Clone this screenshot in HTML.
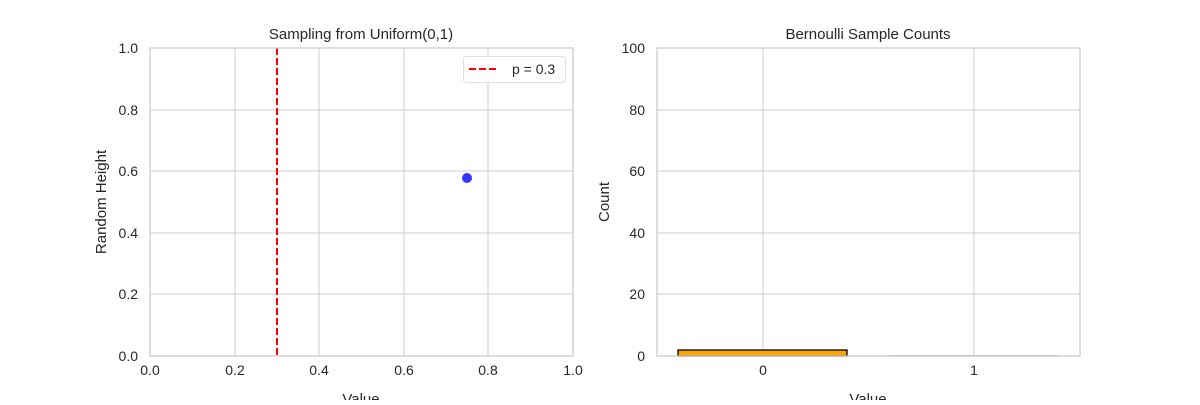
<!DOCTYPE html>
<html><head><style>body{margin:0;background:#fff}svg text{font-family:"Liberation Sans",sans-serif;fill:#262626}</style></head><body>
<svg width="1200" height="400" xmlns="http://www.w3.org/2000/svg">
<rect width="1200" height="400" fill="#fff"/>
<g stroke="#cccccc" stroke-width="1">
<line x1="235" y1="48" x2="235" y2="356"/><line x1="319" y1="48" x2="319" y2="356"/><line x1="404" y1="48" x2="404" y2="356"/><line x1="488" y1="48" x2="488" y2="356"/>
<line x1="150" y1="110" x2="573" y2="110"/><line x1="150" y1="171" x2="573" y2="171"/><line x1="150" y1="233" x2="573" y2="233"/><line x1="150" y1="294" x2="573" y2="294"/>
</g>
<line x1="277" y1="48" x2="277" y2="356" stroke="#ff0000" stroke-width="2" stroke-dasharray="7,3"/>
<circle cx="467" cy="178" r="5" fill="#1f1fff" opacity="0.9"/>
<rect x="150" y="48" width="423" height="308" fill="none" stroke="#cccccc" stroke-width="1.3"/>
<rect x="463.5" y="56.5" width="102" height="26" rx="3" fill="#fff" fill-opacity="0.8" stroke="#dddddd"/>
<line x1="469" y1="69" x2="499" y2="69" stroke="#ff0000" stroke-width="2" stroke-dasharray="7,3"/>
<text x="512" y="74" font-size="14">p = 0.3</text>
<g font-size="14" text-anchor="middle">
<text x="150" y="375">0.0</text><text x="235" y="375">0.2</text><text x="319" y="375">0.4</text><text x="404" y="375">0.6</text><text x="488" y="375">0.8</text><text x="573" y="375">1.0</text>
<text x="361" y="404" font-size="15">Value</text>
<text x="361" y="39" font-size="15">Sampling from Uniform(0,1)</text>
</g>
<g font-size="14" text-anchor="end">
<text x="138" y="361">0.0</text><text x="138" y="299">0.2</text><text x="138" y="238">0.4</text><text x="138" y="176">0.6</text><text x="138" y="115">0.8</text><text x="138" y="53">1.0</text>
</g>
<text transform="translate(106,202) rotate(-90)" font-size="15" text-anchor="middle">Random Height</text>
<g stroke="#cccccc" stroke-width="1">
<line x1="763" y1="48" x2="763" y2="356"/><line x1="974" y1="48" x2="974" y2="356"/>
<line x1="657" y1="110" x2="1080" y2="110"/><line x1="657" y1="171" x2="1080" y2="171"/><line x1="657" y1="233" x2="1080" y2="233"/><line x1="657" y1="294" x2="1080" y2="294"/>
</g>
<rect x="678" y="350" width="169" height="6" fill="#ffa500" stroke="#000" stroke-width="1.3"/>
<line x1="889" y1="355.5" x2="1058" y2="355.5" stroke="#bbbbbb" stroke-width="1"/>
<rect x="657" y="48" width="423" height="308" fill="none" stroke="#cccccc" stroke-width="1.3"/>
<g font-size="14" text-anchor="middle">
<text x="763" y="375">0</text><text x="974" y="375">1</text>
<text x="868" y="404" font-size="15">Value</text>
<text x="868" y="39" font-size="15">Bernoulli Sample Counts</text>
</g>
<g font-size="14" text-anchor="end">
<text x="645" y="361">0</text><text x="645" y="299">20</text><text x="645" y="238">40</text><text x="645" y="176">60</text><text x="645" y="115">80</text><text x="645" y="53">100</text>
</g>
<text transform="translate(609,202) rotate(-90)" font-size="15" text-anchor="middle">Count</text>
</svg>
</body></html>
